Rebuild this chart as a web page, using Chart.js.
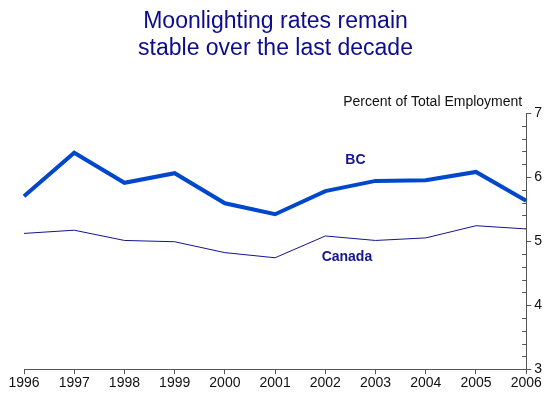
<!DOCTYPE html>
<html>
<head>
<meta charset="utf-8">
<script src="https://cdn.jsdelivr.net/npm/chart.js@4/dist/chart.umd.min.js"></script>
<style>
  html, body { margin: 0; padding: 0; background: #ffffff; }
  #wrap { width: 549px; height: 395px; }
</style>
</head>
<body>
<div id="wrap"><canvas id="c" width="549" height="395"></canvas></div>
<script>
const years = ["1996","1997","1998","1999","2000","2001","2002","2003","2004","2005","2006"];
const bcRates = [5.70, 6.38, 5.91, 6.06, 5.59, 5.42, 5.78, 5.94, 5.95, 6.08, 5.63];
const canadaRates = [5.12, 5.17, 5.01, 4.99, 4.82, 4.74, 5.08, 5.01, 5.05, 5.24, 5.19];
const titleLines = ["Moonlighting rates remain", "stable over the last decade"];
const unitLabel = "Percent of Total Employment";
const yMin = 3, yMax = 7;

const AXIS = '#555555';
const FONT = "'Liberation Sans', Arial, sans-serif";

const extras = {
  id: 'extras',
  afterDraw(chart, args, opts) {
    const ctx = chart.ctx;
    const x = chart.scales.x, y = chart.scales.y;
    const area = chart.chartArea;
    ctx.save();
    // title
    ctx.fillStyle = '#0C0C8C';
    ctx.font = "23px " + FONT;
    ctx.textAlign = 'center';
    ctx.textBaseline = 'middle';
    titleLines.forEach((t, i) => ctx.fillText(t, chart.width / 2 + 1, 22 + i * 26.5));
    // inward minor ticks on the right axis
    ctx.strokeStyle = AXIS;
    ctx.lineWidth = 1;
    for (let i = 0; i <= (yMax - yMin) * 5; i++) {
      const v = yMin + i * 0.2;
      if (Math.abs(v - Math.round(v)) < 1e-6) continue;
      const py = Math.round(y.getPixelForValue(v)) + 0.5;
      ctx.beginPath();
      ctx.moveTo(area.right - 4, py);
      ctx.lineTo(area.right, py);
      ctx.stroke();
    }
    // unit label
    ctx.fillStyle = '#111111';
    ctx.font = "14px " + FONT;
    ctx.textAlign = 'right';
    ctx.fillText(unitLabel, area.right - 4, area.top - 11);
    // series labels
    ctx.font = "bold 14px " + FONT;
    ctx.textAlign = 'center';
    ctx.fillStyle = '#14148C';
    for (const l of opts.labels) {
      ctx.fillText(l.text, x.getPixelForValue(l.xi), y.getPixelForValue(l.yv));
    }
    ctx.restore();
  }
};

new Chart(document.getElementById('c'), {
  type: 'line',
  data: {
    labels: years,
    datasets: [
      { label: 'BC', data: bcRates, borderColor: '#0047CC', borderWidth: 4, pointRadius: 0, tension: 0, fill: false },
      { label: 'Canada', data: canadaRates, borderColor: '#14148C', borderWidth: 1, pointRadius: 0, tension: 0, fill: false }
    ]
  },
  options: {
    responsive: false,
    animation: false,
    events: [],
    layout: { padding: { left: 24, right: 4, top: 113, bottom: 2 } },
    plugins: {
      legend: { display: false },
      tooltip: { enabled: false },
      title: { display: false },
      extras: {
        labels: [
          { text: 'BC', xi: 6.6, yv: 6.27 },
          { text: 'Canada', xi: 6.43, yv: 4.75 }
        ]
      }
    },
    scales: {
      x: {
        type: 'category',
        offset: false,
        border: { color: AXIS, width: 1 },
        grid: { drawOnChartArea: false, tickLength: 5, color: AXIS },
        ticks: { color: '#111111', font: { family: FONT, size: 14 }, padding: 1, maxRotation: 0, autoSkip: false }
      },
      y: {
        position: 'right',
        min: yMin,
        max: yMax,
        border: { color: AXIS, width: 1 },
        grid: {
          drawOnChartArea: false,
          tickLength: 5,
          color: (c) => (c.tick && Math.abs(c.tick.value - Math.round(c.tick.value)) < 1e-6) ? AXIS : 'rgba(0,0,0,0)'
        },
        ticks: {
          stepSize: 0.2,
          autoSkip: false,
          color: '#111111',
          font: { family: FONT, size: 14 },
          padding: 3,
          callback: (v) => Math.abs(v - Math.round(v)) < 1e-6 ? String(Math.round(v)) : ''
        }
      }
    }
  },
  plugins: [extras]
});
</script>
</body>
</html>
